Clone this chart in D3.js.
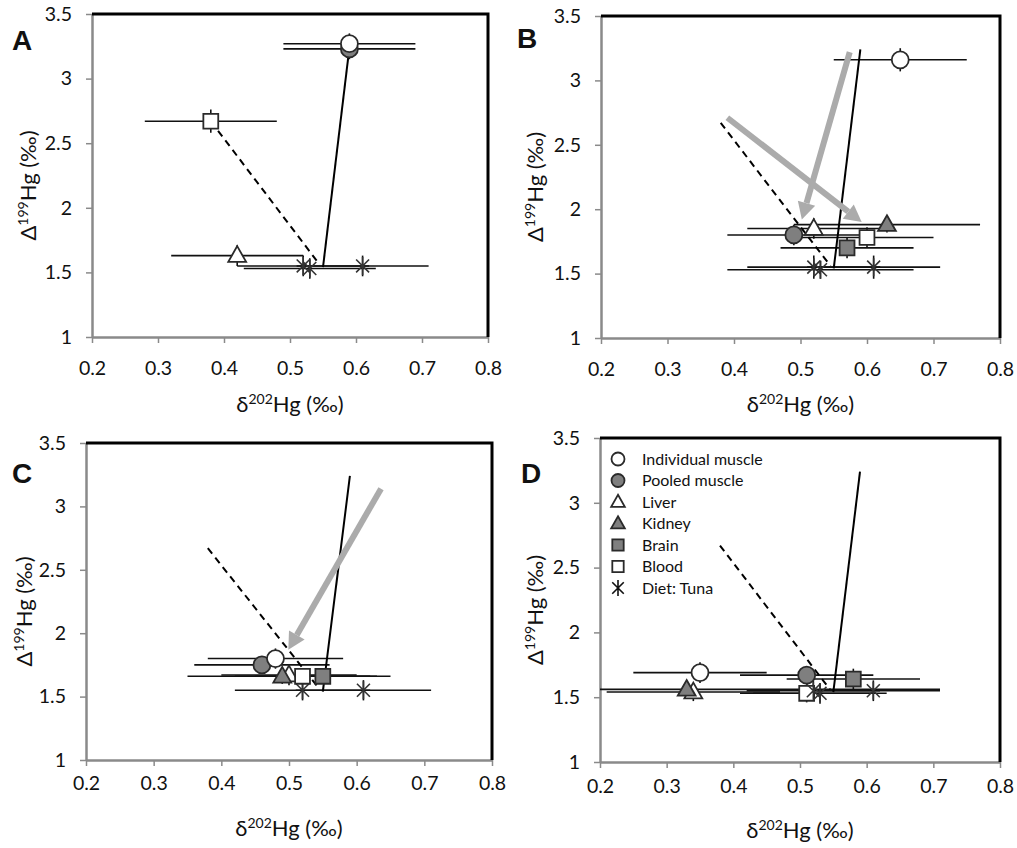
<!DOCTYPE html>
<meta charset="utf-8">
<style>
body { margin: 0; background: #fff; }
text { font-family: Lato, "Open Sans", sans-serif; fill: #111; }
.axis text { font-size: 19.5px; font-family: Lato, sans-serif; fill: #111; }
.axis path, .axis line { stroke: #8a8a8a; }
.axis path { stroke-width: 2.5px; }
.axis line { stroke-width: 1.5px; }
.frame { fill: none; stroke: #000; stroke-width: 3px; }
.errbar { stroke: #111; stroke-width: 1.6px; }
.mix { fill: none; stroke: #000; stroke-width: 2px; }
.letter { font-family: "Liberation Sans", Arial, sans-serif; font-weight: bold; font-size: 28px; }
.title { font-size: 22px; }
.legend text { font-size: 16px; }
</style>
<svg width="1017" height="848"></svg>
<script src="https://d3js.org/d3.v7.min.js"></script>
<script>
var xTicks = [0.2, 0.3, 0.4, 0.5, 0.6, 0.7, 0.8];
var yTicks = [1, 1.5, 2, 2.5, 3, 3.5];
var seriesNames = ["Individual muscle", "Pooled muscle", "Liver", "Kidney", "Brain", "Blood", "Diet: Tuna"];

// [series, d202Hg, D199Hg, x error, y error]  (drawn in this order)
var panelA = [
  ["Blood", 0.38, 2.67, 0.10, 0.09],
  ["Liver", 0.42, 1.63, 0.10, 0.08],
  ["Diet: Tuna", 0.52, 1.55, 0.10, 0.08],
  ["Diet: Tuna", 0.53, 1.53, 0.10, 0.08],
  ["Diet: Tuna", 0.61, 1.55, 0.10, 0.08],
  ["Pooled muscle", 0.59, 3.23, 0.10, 0.08],
  ["Individual muscle", 0.59, 3.27, 0.10, 0.08]
];
var panelB = [
  ["Individual muscle", 0.65, 3.16, 0.10, 0.09],
  ["Diet: Tuna", 0.52, 1.55, 0.10, 0.09],
  ["Diet: Tuna", 0.53, 1.53, 0.14, 0.07],
  ["Diet: Tuna", 0.61, 1.55, 0.10, 0.09],
  ["Pooled muscle", 0.49, 1.80, 0.10, 0.08],
  ["Liver", 0.52, 1.85, 0.10, 0.08],
  ["Kidney", 0.63, 1.88, 0.14, 0.06],
  ["Brain", 0.57, 1.70, 0.10, 0.08],
  ["Blood", 0.60, 1.78, 0.10, 0.08]
];
var panelC = [
  ["Diet: Tuna", 0.52, 1.55, 0.10, 0.08],
  ["Diet: Tuna", 0.61, 1.55, 0.10, 0.08],
  ["Liver", 0.50, 1.67, 0.10, 0.08],
  ["Kidney", 0.49, 1.66, 0.14, 0.06],
  ["Pooled muscle", 0.46, 1.75, 0.10, 0.07],
  ["Individual muscle", 0.48, 1.80, 0.10, 0.08],
  ["Blood", 0.52, 1.66, 0.10, 0.06],
  ["Brain", 0.55, 1.66, 0.10, 0.06]
];
var panelD = [
  ["Individual muscle", 0.35, 1.69, 0.10, 0.08],
  ["Liver", 0.34, 1.54, 0.13, 0.07],
  ["Kidney", 0.33, 1.56, 0.38, 0.05],
  ["Pooled muscle", 0.51, 1.67, 0.10, 0.07],
  ["Brain", 0.58, 1.64, 0.10, 0.08],
  ["Blood", 0.51, 1.53, 0.10, 0.07],
  ["Diet: Tuna", 0.52, 1.55, 0.10, 0.08],
  ["Diet: Tuna", 0.53, 1.53, 0.10, 0.08],
  ["Diet: Tuna", 0.61, 1.55, 0.10, 0.08]
];

// mixing lines, same in every panel
var solidLine = [[0.55, 1.54], [0.59, 3.24]];
var dashedLine = [[0.38, 2.67], [0.545, 1.56]];

// grey arrows [x0, y0, x1 (tip), y1]
var arrowsB = [[0.574, 3.22, 0.502, 1.92], [0.39, 2.71, 0.592, 1.90]];
var arrowsC = [[0.636, 3.14, 0.499, 1.87]];

var style = {
  "Individual muscle": {shape: "circle", fill: "#fff"},
  "Pooled muscle": {shape: "circle", fill: "#7f7f7f"},
  "Liver": {shape: "triangle", fill: "#fff"},
  "Kidney": {shape: "triangle", fill: "#7f7f7f"},
  "Brain": {shape: "square", fill: "#7f7f7f"},
  "Blood": {shape: "square", fill: "#fff"},
  "Diet: Tuna": {shape: "star", fill: "none"}
};

var panels = [
  {id: "A", data: panelA, arrows: [], box: {l: 92, r: 488, t: 14, b: 337}, xPad: 18, letter: [12, 50], yTitleX: 28},
  {id: "B", data: panelB, arrows: arrowsB, box: {l: 601, r: 1000, t: 16, b: 338}, xPad: 18, letter: [517, 48], yTitleX: 535},
  {id: "C", data: panelC, arrows: arrowsC, box: {l: 86, r: 492, t: 443, b: 760}, xPad: 10, letter: [12, 483], yTitleX: 24},
  {id: "D", data: panelD, arrows: [], box: {l: 600, r: 1000, t: 438, b: 762}, xPad: 11, letter: [521, 483], yTitleX: 535, legend: true}
];
var xTitleY = [412, 412, 836, 838];

var svg = d3.select("svg");

function markerPath(shape, s) {
  if (shape == "circle") return d3.symbol(d3.symbolCircle, Math.PI * s * s)();
  if (shape == "square") return d3.symbol(d3.symbolSquare, (s * 1.75) * (s * 1.75))();
  if (shape == "triangle") {
    var h = s * 1.85, w = s * 2.1;
    return "M0," + (-h * 0.6) + "L" + (w / 2) + "," + (h * 0.4) + "L" + (-w / 2) + "," + (h * 0.4) + "Z";
  }
  // asterisk: vertical bar plus an X
  var a = s * 0.72;
  return "M0," + (-s) + "V" + s + "M" + (-a) + "," + (-a) + "L" + a + "," + a + "M" + (-a) + "," + a + "L" + a + "," + (-a);
}

function drawMarker(g, name, s) {
  var st = style[name];
  var p = g.append("path").attr("d", markerPath(st.shape, s));
  if (st.shape == "star") p.attr("fill", "none").attr("stroke", "#333").attr("stroke-width", 1.6);
  else p.attr("fill", st.fill).attr("stroke", "#2a2a2a").attr("stroke-width", 1.8);
  return p;
}

panels.forEach(function(P, pi) {
  var b = P.box;
  var x = d3.scaleLinear().domain([0.2, 0.8]).range([b.l, b.r]);
  var y = d3.scaleLinear().domain([1, 3.5]).range([b.b, b.t]);
  var g = svg.append("g").attr("class", "panel");

  g.append("clipPath").attr("id", "clip" + P.id)
    .append("rect").attr("x", b.l).attr("y", b.t).attr("width", b.r - b.l).attr("height", b.b - b.t);

  // axes
  g.append("g").attr("class", "axis")
    .attr("transform", "translate(0," + b.b + ")")
    .call(d3.axisBottom(x).tickValues(xTicks).tickFormat(d3.format("~g")).tickSize(6).tickSizeOuter(0).tickPadding(P.xPad));
  g.append("g").attr("class", "axis")
    .attr("transform", "translate(" + b.l + ",0)")
    .call(d3.axisLeft(y).tickValues(yTicks).tickFormat(d3.format("~g")).tickSize(6).tickSizeOuter(0).tickPadding(14));
  g.selectAll(".axis text").attr("fill", "#111");

  g.append("path").attr("class", "frame")
    .attr("d", "M" + x(0.2) + "," + y(3.5) + "H" + x(0.8) + "V" + y(1));

  var plot = g.append("g").attr("clip-path", "url(#clip" + P.id + ")");

  // error bars
  P.data.forEach(function(d) {
    plot.append("line").attr("class", "errbar")
      .attr("x1", x(d[1] - d[3])).attr("x2", x(d[1] + d[3]))
      .attr("y1", y(d[2])).attr("y2", y(d[2]));
    plot.append("line").attr("class", "errbar")
      .attr("x1", x(d[1])).attr("x2", x(d[1]))
      .attr("y1", y(d[2] - d[4])).attr("y2", y(d[2] + d[4]));
  });

  // mixing lines
  var line = d3.line().x(function(d) { return x(d[0]); }).y(function(d) { return y(d[1]); });
  plot.append("path").attr("class", "mix").attr("d", line(solidLine));
  plot.append("path").attr("class", "mix").attr("stroke-dasharray", "7,5").attr("d", line(dashedLine));

  // markers
  P.data.forEach(function(d) {
    var mg = plot.append("g").attr("transform", "translate(" + x(d[1]) + "," + y(d[2]) + ")");
    drawMarker(mg, d[0], style[d[0]].shape == "star" ? 9 : 8.5);
  });

  // grey arrows
  P.arrows.forEach(function(a) {
    var x0 = x(a[0]), y0 = y(a[1]), x1 = x(a[2]), y1 = y(a[3]);
    var ang = Math.atan2(y1 - y0, x1 - x0), hl = 17, hw = 9;
    var bx = x1 - hl * Math.cos(ang), by = y1 - hl * Math.sin(ang);
    g.append("line").attr("x1", x0).attr("y1", y0).attr("x2", bx).attr("y2", by)
      .attr("stroke", "#ababab").attr("stroke-width", 6);
    g.append("path").attr("fill", "#ababab")
      .attr("d", "M" + x1 + "," + y1 +
        "L" + (bx + hw * Math.sin(ang)) + "," + (by - hw * Math.cos(ang)) +
        "L" + (bx - hw * Math.sin(ang)) + "," + (by + hw * Math.cos(ang)) + "Z");
  });

  // panel letter
  g.append("text").attr("class", "letter").attr("x", P.letter[0]).attr("y", P.letter[1]).text(P.id);

  // axis titles
  var xt = g.append("text").attr("class", "title").attr("text-anchor", "middle")
    .attr("x", (b.l + b.r) / 2).attr("y", xTitleY[pi]);
  xt.append("tspan").text("\u03b4");
  xt.append("tspan").attr("font-size", "14px").attr("dy", -8).text("202");
  xt.append("tspan").attr("dy", 8).text("Hg (\u2030)");

  var yt = g.append("text").attr("class", "title").attr("text-anchor", "middle")
    .attr("transform", "translate(" + P.yTitleX + "," + ((b.t + b.b) / 2 + 10) + ") rotate(-90)")
    .attr("dy", "0.35em");
  yt.append("tspan").text("\u0394");
  yt.append("tspan").attr("font-size", "14px").attr("dy", -8).text("199");
  yt.append("tspan").attr("dy", 8).text("Hg (\u2030)");

  if (P.legend) {
    var lg = g.append("g").attr("class", "legend");
    seriesNames.forEach(function(name, i) {
      var ly = 459 + i * 21.5;
      var mg = lg.append("g").attr("transform", "translate(618," + ly + ")");
      var shape = style[name].shape;
      var m = drawMarker(mg, name, shape == "star" ? 8 : 6.5);
      if (shape == "star") m.attr("stroke", "#111");
      lg.append("text").attr("x", 642).attr("y", ly).attr("dy", "0.35em").text(name);
    });
  }
});
</script>
